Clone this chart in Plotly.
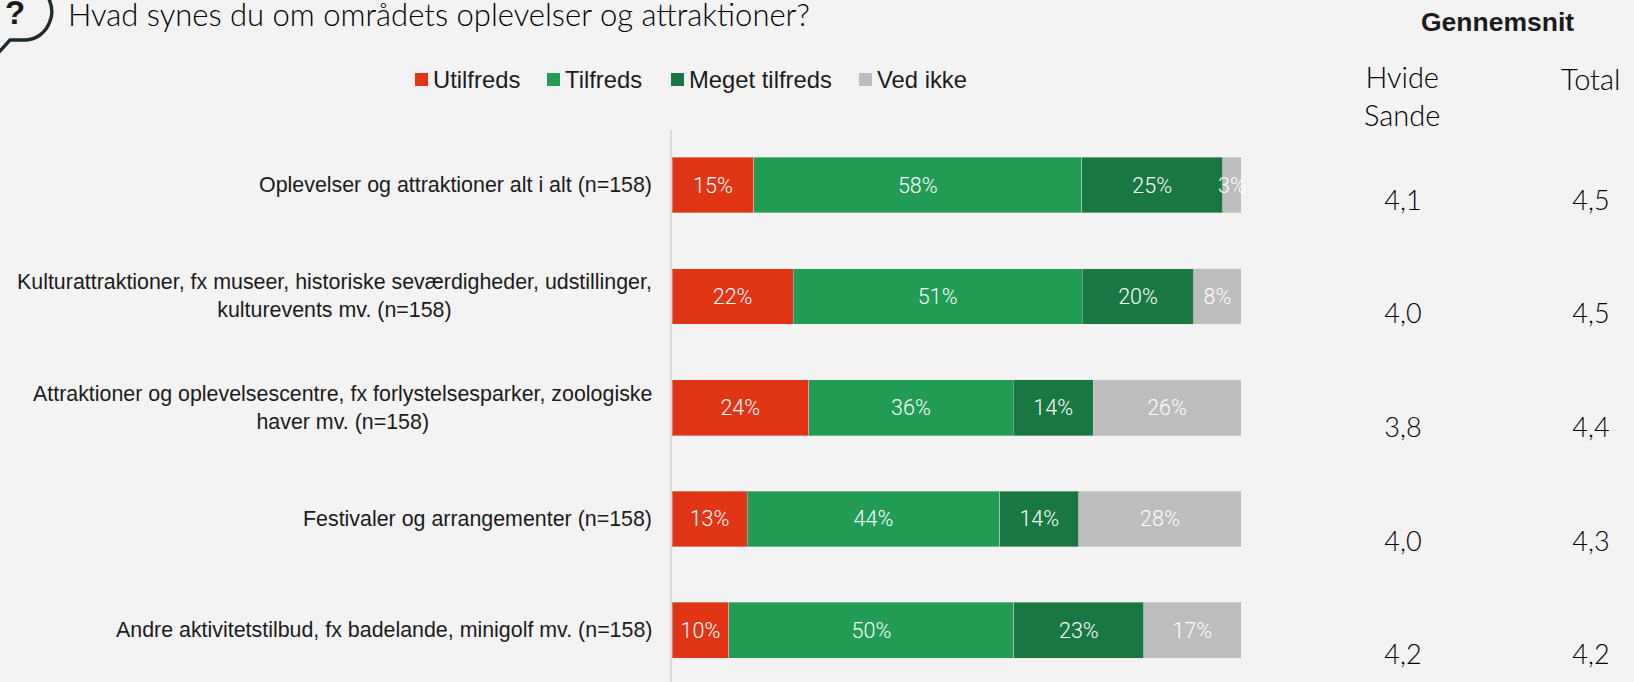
import plotly.graph_objects as go

W, H = 1634, 682
categories = [
    "Oplevelser og attraktioner alt i alt (n=158)",
    "Kulturattraktioner, fx museer, historiske seværdigheder, udstillinger,<br>kulturevents mv. (n=158)",
    "Attraktioner og oplevelsescentre, fx forlystelsesparker, zoologiske<br>haver mv. (n=158)",
    "Festivaler og arrangementer (n=158)",
    "Andre aktivitetstilbud, fx badelande, minigolf mv. (n=158)",
]
series_names = ["Utilfreds", "Tilfreds", "Meget tilfreds", "Ved ikke"]
series_colors = ["#E03616", "#209C55", "#197741", "#BDBDBD"]
utilfreds = [14.4, 21.3, 24.0, 13.2, 10.0]
tilfreds = [57.6, 50.8, 36.0, 44.4, 50.1]
meget = [24.8, 19.6, 14.0, 13.9, 22.8]
ved_ikke = [3.2, 8.3, 26.0, 28.5, 17.1]
lab_utilfreds = ["15%", "22%", "24%", "13%", "10%"]
lab_tilfreds = ["58%", "51%", "36%", "44%", "50%"]
lab_meget = ["25%", "20%", "14%", "14%", "23%"]
lab_ved = ["3%", "8%", "26%", "28%", "17%"]
avg_columns = ["Hvide<br>Sande", "Total"]
avg_hvide = ["4,1", "4,0", "3,8", "4,0", "4,2"]
avg_total = ["4,5", "4,5", "4,4", "4,3", "4,2"]
title = "Hvad synes du om områdets oplevelser og attraktioner?"

px = lambda x: x / W
py = lambda y: 1 - y / H
ARIAL = "Liberation Sans"
GEO = "Lato"
NARROW = "Roboto"
INK = "#1b1b1b"

fig = go.Figure()
values = [utilfreds, tilfreds, meget, ved_ikke]
labels = [lab_utilfreds, lab_tilfreds, lab_meget, lab_ved]
rows = list(range(5))
for name, col, v, t in zip(series_names, series_colors, values, labels):
    fig.add_trace(go.Bar(
        y=rows, x=v, name=name, orientation="h", text=t,
        textposition="inside", insidetextanchor="middle", textangle=0,
        constraintext="none", cliponaxis=False,
        textfont=dict(family=NARROW, size=21.5, color="#ffffff", weight=300),
        marker=dict(color=col, line=dict(color="rgba(225,225,225,0.4)", width=1)),
        showlegend=False,
    ))

# average columns, on their own axes
for xpos, vals in ((0, avg_hvide), (1, avg_total)):
    fig.add_trace(go.Scatter(x=[xpos] * 5, y=rows, mode="text", text=vals, xaxis="x2", yaxis="y2",
                             textfont=dict(family=GEO, size=27, color="#000000", weight=300),
                             showlegend=False, cliponaxis=False))

ann = []
def note(x, y, text, size, family=ARIAL, anchor="left", align="left", weight=None, color=INK):
    ann.append(dict(x=px(x), y=py(y), xref="paper", yref="paper", text=text, showarrow=False,
                    xanchor=anchor, yanchor="middle", align=align,
                    font=dict(family=family, size=size, color=color, weight=weight)))

for i, c in enumerate(categories):
    ann.append(dict(x=px(654), xref="paper", y=i, yref="y", text=c, showarrow=False,
                    xanchor="right", yanchor="middle", align="center",
                    font=dict(family=ARIAL, size=21.4, color=INK)))

note(66, 14, title, 31, GEO, weight=300, color="#000000")
note(1497, 22, "<b>Gennemsnit</b>", 26.5, ARIAL, anchor="center", align="center")
note(1402, 96, avg_columns[0], 29, GEO, anchor="center", align="center", weight=300, color="#000000")
note(1591, 78, avg_columns[1], 29, GEO, anchor="center", align="center", weight=300, color="#000000")

# legend
swatch_x = [415, 547, 671, 859]
shapes = []
for sx, name, col in zip(swatch_x, series_names, series_colors):
    shapes.append(dict(type="rect", xref="paper", yref="paper", x0=px(sx), x1=px(sx + 13),
                       y0=py(86), y1=py(73), fillcolor=col, line=dict(width=0)))
    note(sx + 16, 79.5, name, 23.8, ARIAL)

# speech bubble icon
path = (f"M{px(48)},{py(-3)} C{px(52)},{py(5)} {px(53)},{py(14)} {px(50)},{py(21)} "
        f"C{px(46)},{py(33)} {px(36)},{py(40)} {px(24)},{py(40)} L{px(10)},{py(40)} L{px(-1)},{py(52)}")
shapes.append(dict(type="path", xref="paper", yref="paper", path=path, line=dict(color="#1f2a30", width=3.4)))
note(15, 13, "<b>?</b>", 33, ARIAL, anchor="center", align="center")

fig.update_layout(
    width=W, height=H, autosize=False, barmode="stack", bargap=0.5, showlegend=False,
    paper_bgcolor="#F3F3F3", plot_bgcolor="#F3F3F3",
    margin=dict(l=0, r=0, t=0, b=0), annotations=ann, shapes=shapes,
    xaxis=dict(domain=[px(672), px(1241)], range=[0, 100], visible=False, fixedrange=True),
    yaxis=dict(domain=[0, py(129.5)], range=[4.465, -0.5], showticklabels=False, ticks="", showgrid=False,
               zeroline=False, showline=True, linecolor="#DADADA", linewidth=2, anchor="x", fixedrange=True),
    xaxis2=dict(domain=[px(1309), 1], range=[-0.5, 1.229], visible=False, anchor="y2"),
    yaxis2=dict(domain=[0, py(146)], range=[4.216, -0.5], visible=False, anchor="x2"),
)
fig.write_html("out.html", config=dict(displayModeBar=False),
               post_script="document.body.style.margin='0';document.documentElement.style.background='#F3F3F3';document.body.style.overflow='hidden';")
